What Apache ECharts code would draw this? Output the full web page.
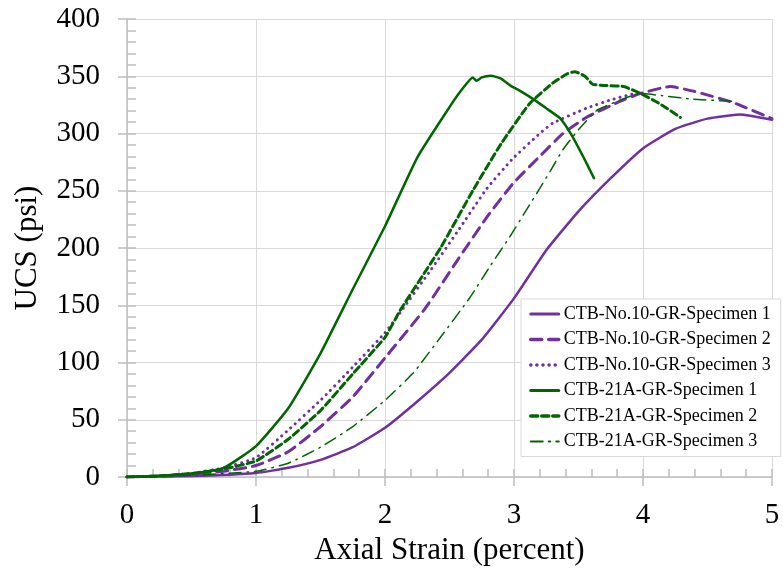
<!DOCTYPE html>
<html>
<head>
<meta charset="utf-8">
<script src="https://cdn.jsdelivr.net/npm/echarts@6/dist/echarts.min.js"></script>
<style>
  html, body { margin: 0; padding: 0; background: #fff; }
  #main { width: 783px; height: 579px; }
</style>
</head>
<body>
<div id="main"></div>
<script>
    // [axial strain (percent), UCS (psi)]
    var no10Spec1 = [[0, 0], [0.5, 0.8], [1, 3.5], [1.25, 8], [1.5, 15], [1.75, 26], [2, 43], [2.25, 66], [2.5, 91],
        [2.75, 120], [3, 156], [3.25, 198], [3.5, 232], [3.75, 261], [4, 287], [4.25, 304], [4.5, 313], [4.75, 316.5], [5, 312]];
    var no10Spec2 = [[0, 0], [0.25, 0.5], [0.5, 2], [0.75, 5], [1, 10], [1.25, 22], [1.5, 44], [1.75, 70], [2, 104],
        [2.31, 147], [2.56, 189], [2.79, 227], [2.99, 256], [3.19, 279], [3.38, 300], [3.56, 314], [3.82, 328], [3.98, 335],
        [4.21, 341], [4.39, 337], [4.7, 327], [5, 313]];
    var no10Spec3 = [[0, 0], [0.25, 1], [0.5, 3], [0.75, 8], [1, 17], [1.25, 41], [1.5, 67], [1.75, 96], [2, 126],
        [2.12, 144], [2.35, 180], [2.56, 214], [2.79, 252], [2.99, 278], [3.2, 300], [3.3, 309], [3.56, 322], [3.74, 329],
        [3.9, 334], [3.95, 335]];
    var a21Spec1 = [[0, 0], [0.25, 1], [0.5, 3], [0.75, 8], [1, 27], [1.25, 60], [1.5, 108], [1.75, 164],
        [2, 219], [2.25, 279], [2.5, 323], [2.6, 339], [2.68, 349], [2.71, 346], [2.75, 349], [2.82, 350.5], [2.9, 348],
        [2.97, 342], [3.05, 337], [3.15, 330], [3.25, 322], [3.36, 313], [3.45, 298], [3.54, 279], [3.62, 261]];
    var a21Spec2 = [[0, 0], [0.25, 1], [0.5, 3], [0.75, 7], [1, 14], [1.25, 33], [1.5, 58], [1.75, 90], [2, 122],
        [2.12, 146], [2.43, 200], [2.68, 250], [2.9, 291], [3.12, 326], [3.3, 344], [3.41, 352], [3.47, 354], [3.55, 350],
        [3.61, 343], [3.7, 342], [3.85, 341], [3.98, 335], [4.13, 326], [4.29, 314]];
    var a21Spec3 = [[0, 0], [0.5, 1.5], [1, 5], [1.25, 12], [1.5, 26], [1.75, 44], [2, 67], [2.22, 91], [2.43, 122],
        [2.66, 157], [2.82, 185], [2.98, 212], [3.1, 234], [3.2, 252], [3.28, 267], [3.38, 286], [3.49, 302], [3.64, 320],
        [3.82, 329], [3.98, 335], [4.15, 333], [4.39, 330], [4.7, 328]];

    var names = ['CTB-No.10-GR-Specimen 1', 'CTB-No.10-GR-Specimen 2', 'CTB-No.10-GR-Specimen 3',
        'CTB-21A-GR-Specimen 1', 'CTB-21A-GR-Specimen 2', 'CTB-21A-GR-Specimen 3'];

    var purple = '#7030a0';
    var green = '#006600';
    var serif = '"Liberation Serif", "Times New Roman", serif';
    var axisGray = '#bfbfbf';

    // line width / dash per series
    var widths = [2.5, 3, 3, 2.5, 3, 1.5];
    var dashes = ['solid', [11, 7], [0.1, 6], 'solid', [7, 4], [12, 6, 1.5, 6]];
    var colors = [purple, purple, purple, green, green, green];
    var allData = [no10Spec1, no10Spec2, no10Spec3, a21Spec1, a21Spec2, a21Spec3];

    var myChart = echarts.init(document.getElementById('main'));

    var series = [];
    var legendData = [];
    for (var i = 0; i < names.length; i++) {
        series.push({
            name: names[i],
            type: 'line',
            data: allData[i],
            symbol: 'none',
            smooth: 0.15,
            lineStyle: { color: colors[i], width: widths[i], type: dashes[i], cap: 'round' },
            itemStyle: { color: colors[i] },
            z: 3
        });
        legendData.push({
            name: names[i],
            lineStyle: { color: colors[i], width: widths[i] + 0.5, type: dashes[i], cap: 'round' }
        });
    }

    var option = {
        backgroundColor: '#fff',
        animation: false,
        grid: { left: 127, right: 11, top: 19, bottom: 102 },
        legend: {
            orient: 'vertical',
            left: 521,
            top: 299,
            data: legendData,
            backgroundColor: '#fff',
            borderColor: '#d9d9d9',
            borderWidth: 1,
            padding: [6, 10, 6, 8],
            itemWidth: 28,
            itemHeight: 18,
            itemGap: 7.5,
            itemStyle: { opacity: 0 },
            textStyle: { fontFamily: serif, fontSize: 18, color: '#000' }
        },
        xAxis: [{
            type: 'value',
            min: 0,
            max: 5,
            interval: 1,
            name: 'Axial Strain (percent)',
            nameLocation: 'middle',
            nameGap: 58,
            nameTextStyle: { fontFamily: serif, fontSize: 31, color: '#000' },
            axisLine: { show: true, lineStyle: { color: axisGray, width: 1.5 } },
            axisTick: { show: true, length: 9, lineStyle: { color: axisGray, width: 1.5 } },
            axisLabel: { fontFamily: serif, fontSize: 29, color: '#000', margin: 24 },
            splitLine: { show: true, lineStyle: { color: '#d9d9d9', width: 1 } }
        }, {
            // inside tick marks (major + minor) on the same axis position
            type: 'value',
            position: 'bottom',
            min: 0,
            max: 5,
            interval: 1,
            axisLine: { show: false },
            axisTick: { show: true, inside: true, length: 8, lineStyle: { color: axisGray, width: 1.5 } },
            minorTick: { show: true, splitNumber: 5, length: 8, lineStyle: { color: axisGray, width: 1.5 } },
            axisLabel: { show: false },
            splitLine: { show: false }
        }],
        yAxis: [{
            type: 'value',
            min: 0,
            max: 400,
            interval: 50,
            name: 'UCS (psi)',
            nameLocation: 'middle',
            nameGap: 84,
            nameTextStyle: { fontFamily: serif, fontSize: 31, color: '#000' },
            axisLine: { show: true, lineStyle: { color: axisGray, width: 1.5 } },
            axisTick: { show: true, length: 9, lineStyle: { color: axisGray, width: 1.5 } },
            axisLabel: { fontFamily: serif, fontSize: 29, color: '#000', margin: 27 },
            splitLine: { show: true, lineStyle: { color: '#d9d9d9', width: 1 } }
        }, {
            type: 'value',
            position: 'left',
            min: 0,
            max: 400,
            interval: 50,
            axisLine: { show: false },
            axisTick: { show: true, inside: true, length: 9, lineStyle: { color: axisGray, width: 1.5 } },
            minorTick: { show: true, splitNumber: 5, length: 9, lineStyle: { color: axisGray, width: 1.5 } },
            axisLabel: { show: false },
            splitLine: { show: false }
        }],
        series: series
    };

    myChart.setOption(option);
</script>
</body>
</html>
